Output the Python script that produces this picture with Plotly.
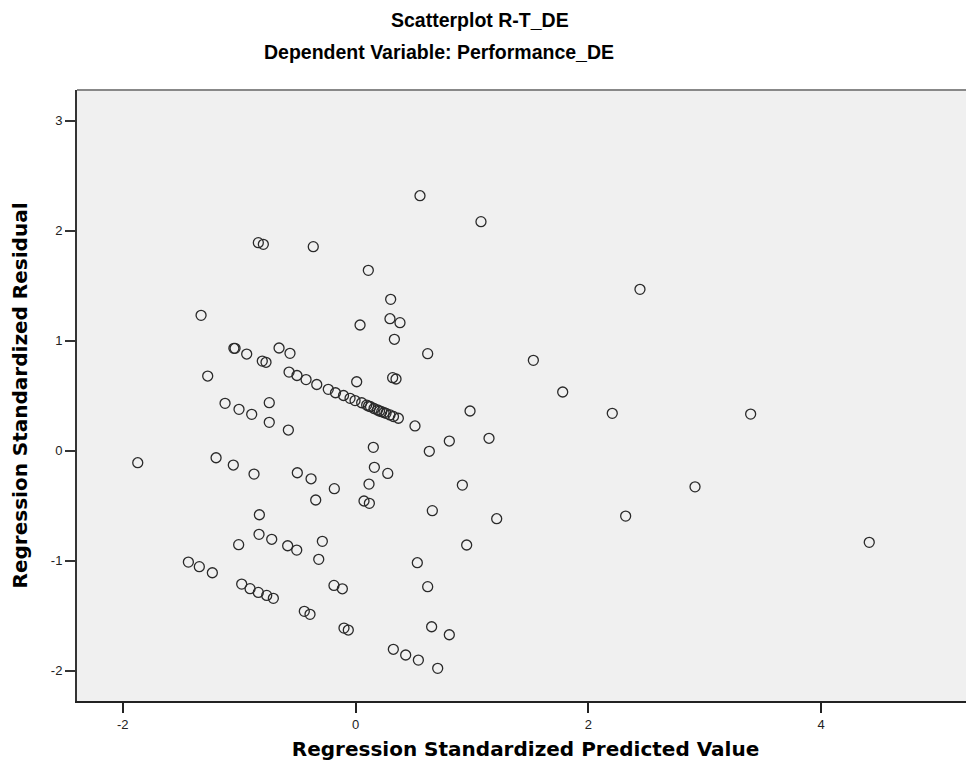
import plotly.graph_objects as go

# Regression standardized predicted value (x) and standardized residual (y)
pred = [
    -0.835, -0.792, -0.363, 0.110, -1.327, 0.302, 0.296, 0.382, 0.334, 0.554,
    1.078, 2.444, 0.620, 1.528, 1.780, 0.319, 0.348, 0.039, -1.045, -1.035,
    -0.935, -0.657, -0.563, -0.801, -0.769, -1.270, 0.010,
    -0.571, -0.503, -0.425, -0.333, -0.234, -0.172, -0.103, -0.047, -0.004, 0.053,
    0.096, 0.112, 0.129, 0.159, 0.189, 0.206, 0.225, 0.245, 0.262, 0.296, 0.326, 0.368,
    -1.121, -1.001, -0.892, -0.741, -0.741, -0.577,
    -1.871, -1.198, -1.050, -0.872, -0.500, -0.382, -0.182, -0.342,
    0.153, 0.162, 0.277, 0.116, 0.073, 0.119,
    -0.826, -0.829, -0.720, -1.004, -0.583, -0.505, -0.285, -0.316,
    -1.436, -1.342, -1.230, -0.978, -0.906, -0.835, -0.763, -0.706,
    -0.185, -0.113, -0.440, -0.391, -0.099, -0.062,
    2.206, 0.984, 0.806, 1.147, 0.634, 0.511, 0.918, 0.660, 1.213, 2.321,
    0.955, 0.531, 0.620, 0.654, 0.806, 0.325, 0.431, 0.540, 0.706,
    3.395, 2.917, 4.414,
]
resid = [
    1.891, 1.876, 1.855, 1.640, 1.231, 1.376, 1.200, 1.164, 1.013, 2.318,
    2.082, 1.467, 0.882, 0.822, 0.534, 0.664, 0.652, 1.143, 0.931, 0.931,
    0.879, 0.934, 0.885, 0.815, 0.804, 0.679, 0.627,
    0.715, 0.684, 0.647, 0.602, 0.558, 0.527, 0.502, 0.476, 0.456, 0.436,
    0.415, 0.406, 0.400, 0.384, 0.370, 0.361, 0.355, 0.347, 0.340, 0.325, 0.311, 0.295,
    0.431, 0.376, 0.331, 0.437, 0.258, 0.188,
    -0.109, -0.064, -0.130, -0.212, -0.200, -0.255, -0.345, -0.448,
    0.031, -0.151, -0.206, -0.303, -0.457, -0.478,
    -0.582, -0.760, -0.805, -0.854, -0.864, -0.903, -0.824, -0.987,
    -1.012, -1.054, -1.109, -1.212, -1.254, -1.288, -1.315, -1.342,
    -1.224, -1.255, -1.460, -1.487, -1.612, -1.630,
    0.340, 0.361, 0.088, 0.113, -0.005, 0.225, -0.312, -0.545, -0.618, -0.594,
    -0.857, -1.018, -1.236, -1.600, -1.673, -1.805, -1.857, -1.903, -1.978,
    0.333, -0.328, -0.833,
]

x_ticks = [-2, 0, 2, 4]
y_ticks = [-2, -1, 0, 1, 2, 3]

fig = go.Figure()
fig.add_trace(go.Scatter(
    x=pred, y=resid, mode="markers",
    marker=dict(symbol="circle-open", size=10, color="#2a2a2a", line=dict(width=1.3, color="#2a2a2a")),
    hoverinfo="x+y", showlegend=False,
))

title_font = "Liberation Sans"
axis_font = "DejaVu Sans"
L, T, B, W, H = 69, 82, 69, 966, 762
PW = W - L
PH = H - T - B
fig.update_layout(
    width=W, height=H,
    margin=dict(l=L, r=0, t=T, b=B),
    paper_bgcolor="white",
    plot_bgcolor="#F0F0F0",
    font=dict(family="Liberation Sans", color="#000000"),
    xaxis=dict(
        range=[-2.393, 5.314], tickvals=x_ticks, ticktext=[str(v) for v in x_ticks],
        showgrid=False, zeroline=False, showline=True, linecolor="#222222", linewidth=2,
        ticks="outside", ticklen=10, tickwidth=2, tickcolor="#222222",
        tickfont=dict(size=13, color="#222222"),
        title=dict(text="<b>Regression Standardized Predicted Value</b>",
                   font=dict(size=20, family=axis_font, color="#000000"), standoff=11),
    ),
    yaxis=dict(
        range=[-2.275, 3.279], tickvals=y_ticks, ticktext=[str(v) for v in y_ticks],
        showgrid=False, zeroline=False, showline=True, linecolor="#333333", linewidth=2,
        ticks="outside", ticklen=10, tickwidth=2, tickcolor="#333333",
        tickfont=dict(size=13, color="#222222"),
        title=dict(text="<b>Regression Standardized Residual</b>",
                   font=dict(size=20, family=axis_font, color="#000000"), standoff=22),
    ),
    shapes=[dict(type="line", xref="paper", yref="paper", x0=0, x1=1, y0=1, y1=1,
                 line=dict(color="#888888", width=2))],
    annotations=[
        dict(text="<b>Scatterplot R-T_DE</b>", xref="paper", yref="paper",
             x=(480 - 77) / PW, y=1 + (90 - 20) / PH, xanchor="center", yanchor="middle",
             showarrow=False, font=dict(size=19.5, family=title_font, color="#000000")),
        dict(text="<b>Dependent Variable: Performance_DE</b>", xref="paper", yref="paper",
             x=(439 - 77) / PW, y=1 + (90 - 52) / PH, xanchor="center", yanchor="middle",
             showarrow=False, font=dict(size=19.5, family=title_font, color="#000000")),
    ],
)

fig.write_html("out.html")
